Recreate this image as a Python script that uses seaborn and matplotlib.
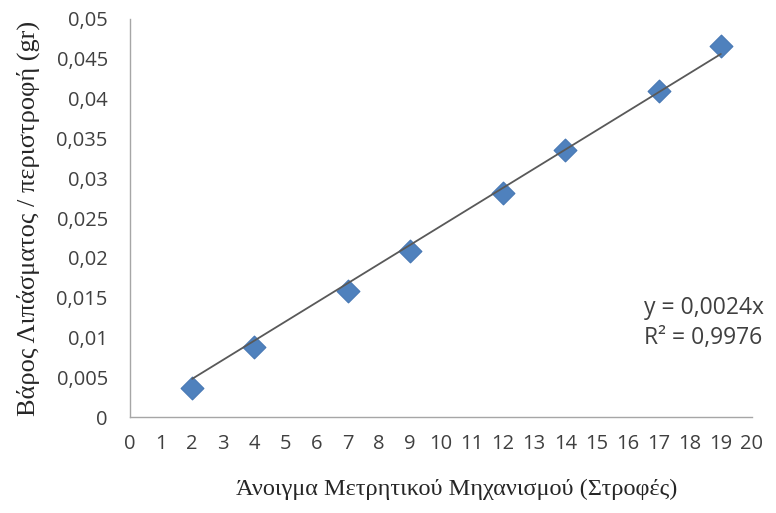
import numpy as np
import pandas as pd
import matplotlib
matplotlib.use("Agg")
import matplotlib.pyplot as plt
from matplotlib.ticker import FuncFormatter, MultipleLocator
import seaborn as sns

# Calibration data: metering opening (turns) vs fertilizer mass per revolution (gr)
turns = [2, 4, 7, 9, 12, 14, 17, 19]
mass_per_rev = [0.0037, 0.0088, 0.0158, 0.0208, 0.0281, 0.0336, 0.0409, 0.0466]

# Linear trendline through the origin
slope = 0.0024
r_squared = 0.9976

x_label = "Άνοιγμα Μετρητικού Μηχανισμού (Στροφές)"
y_label = "Βάρος Λιπάσματος / περιστροφή (gr)"

df = pd.DataFrame({"turns": turns, "mass": mass_per_rev})

sns.set_theme(style="white")
plt.rcParams["font.family"] = ["Open Sans", "DejaVu Sans"]

fig = plt.figure(figsize=(7.76, 5.13), dpi=100)
ax = fig.add_axes([0.1675, 0.187, 0.8015, 0.776])

sns.scatterplot(data=df, x="turns", y="mass", marker="D", s=135,
                color="#4f81bd", edgecolor="#4677b3", linewidth=0.8,
                ax=ax, zorder=3, legend=False)

x_line = np.array([min(turns), max(turns)])
ax.plot(x_line, slope * x_line, color="#595959", linewidth=1.3, zorder=4)

ax.set_xlim(0, 20)
ax.set_ylim(0, 0.05)
ax.xaxis.set_major_locator(MultipleLocator(1))
ax.yaxis.set_major_locator(MultipleLocator(0.005))


def comma_fmt(v, pos):
    return f"{round(v, 4):g}".replace(".", ",")


ax.yaxis.set_major_formatter(FuncFormatter(comma_fmt))
ax.xaxis.set_major_formatter(FuncFormatter(lambda v, p: f"{int(round(v))}"))

for side in ("top", "right"):
    ax.spines[side].set_visible(False)
for side in ("left", "bottom"):
    ax.spines[side].set_color("#a6a6a6")
    ax.spines[side].set_linewidth(1.0)

ax.tick_params(axis="both", which="major", direction="out", length=4,
               width=0.8, color="#a6a6a6", labelsize=14.5,
               labelcolor="#404040")
ax.tick_params(axis="y", pad=12)
ax.tick_params(axis="x", pad=8)

serif = ["Liberation Serif", "DejaVu Serif"]
ax.set_xlabel(x_label, family=serif, fontsize=17.5, color="#262626", labelpad=18)
ax.set_ylabel(y_label, family=serif, fontsize=19, color="#262626", labelpad=12)
ax.xaxis.set_label_coords(0.525, -0.155)

eq_text = f"y = {slope:.4f}x".replace(".", ",") + "\n" + \
    f"R² = {r_squared:.4f}".replace(".", ",")
ax.text(0.826, 0.236, eq_text, transform=ax.transAxes, fontsize=16.5,
        color="#404040", ha="left", va="center", linespacing=1.3)

fig.savefig("out.png", dpi=100, facecolor="white")
